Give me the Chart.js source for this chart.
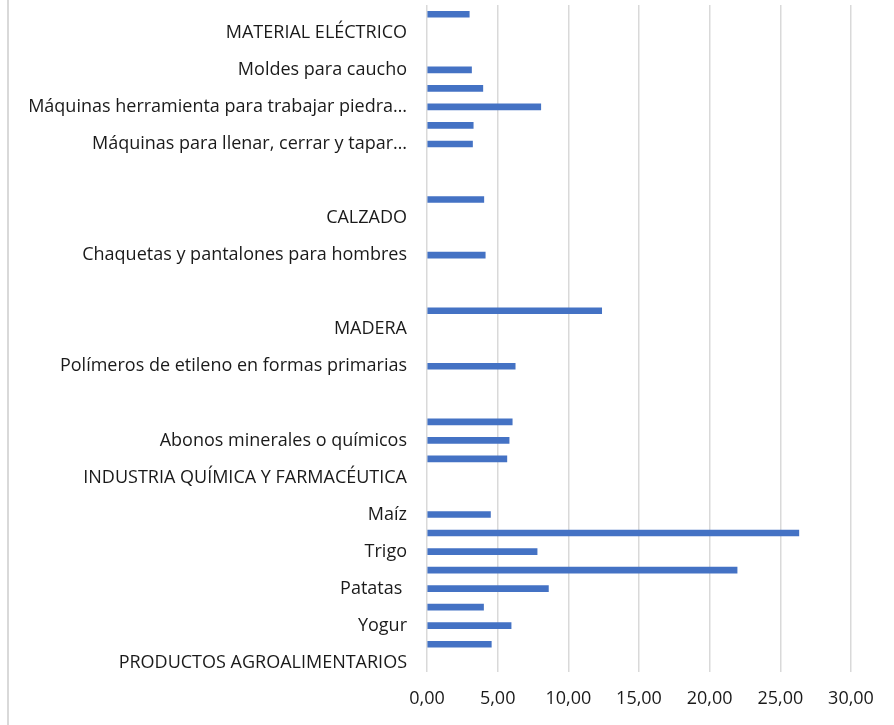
<!DOCTYPE html>
<html>
<head>
<meta charset="utf-8">
<script src="https://cdn.jsdelivr.net/npm/chart.js@4/dist/chart.umd.min.js"></script>
<style>
  html, body { margin: 0; padding: 0; background: #ffffff; }
  canvas { display: block; }
</style>
</head>
<body>
<canvas id="c" width="894" height="725"></canvas>
<script>
// Categories listed bottom-to-top (as in the original spreadsheet order)
const categories = [
  "PRODUCTOS AGROALIMENTARIOS", "", "Yogur", "", "Patatas ", "", "Trigo", "", "Maíz", "",
  "INDUSTRIA QUÍMICA Y FARMACÉUTICA", "", "Abonos minerales o químicos", "", "", "",
  "Polímeros de etileno en formas primarias", "", "MADERA", "", "", "",
  "Chaquetas y pantalones para hombres", "", "CALZADO", "", "", "",
  "Máquinas para llenar, cerrar y tapar…", "", "Máquinas herramienta para trabajar piedra…", "",
  "Moldes para caucho", "", "MATERIAL ELÉCTRICO", ""
];
const values = [
  null, 4.55, 5.95, 4.00, 8.59, 21.94, 7.79, 26.31, 4.49, null,
  null, 5.65, 5.81, 6.03, null, null,
  6.24, null, null, 12.36, null, null,
  4.12, null, null, 4.02, null, null,
  3.22, 3.27, 8.05, 3.95,
  3.15, null, null, 2.99
];
const xTicks = { min: 0, max: 30, step: 5 };

const borderPlugin = {
  id: 'outerBorder',
  beforeDraw(chart) {
    const ctx = chart.ctx;
    ctx.save();
    ctx.fillStyle = '#ffffff';
    ctx.fillRect(0, 0, chart.width, chart.height);
    ctx.strokeStyle = '#d9d9d9';
    ctx.lineWidth = 2;
    ctx.beginPath();
    ctx.moveTo(8, 0);
    ctx.lineTo(8, chart.height);
    ctx.stroke();
    ctx.restore();
  }
};

new Chart(document.getElementById('c'), {
  type: 'bar',
  data: {
    labels: categories,
    datasets: [{
      data: values,
      backgroundColor: '#4472C4',
      borderWidth: 0,
      barThickness: 6
    }]
  },
  options: {
    indexAxis: 'y',
    responsive: false,
    animation: false,
    layout: { padding: { top: 5, right: 43, bottom: 0, left: 0 } },
    plugins: { legend: { display: false }, tooltip: { enabled: false } },
    scales: {
      y: {
        reverse: true,
        grid: { display: false, drawTicks: false },
        border: { display: false },
        ticks: {
          autoSkip: false,
          padding: 20,
          color: '#1a1a1a',
          font: { family: 'Open Sans', size: 18 }
        },
        afterFit(scale) { scale.width = 427; scale.paddingTop = 0; scale.paddingBottom = 0; }
      },
      x: {
        min: xTicks.min,
        max: xTicks.max,
        grid: { color: '#d9d9d9', lineWidth: 1.5, drawTicks: false },
        border: { display: false },
        ticks: {
          stepSize: xTicks.step,
          padding: 16,
          color: '#1a1a1a',
          font: { family: 'Open Sans', size: 18 },
          callback: v => v.toFixed(2).replace('.', ',')
        },
        afterFit(scale) { scale.height = 53; scale.paddingLeft = 0; scale.paddingRight = 0; }
      }
    }
  },
  plugins: [borderPlugin]
});
</script>
</body>
</html>
